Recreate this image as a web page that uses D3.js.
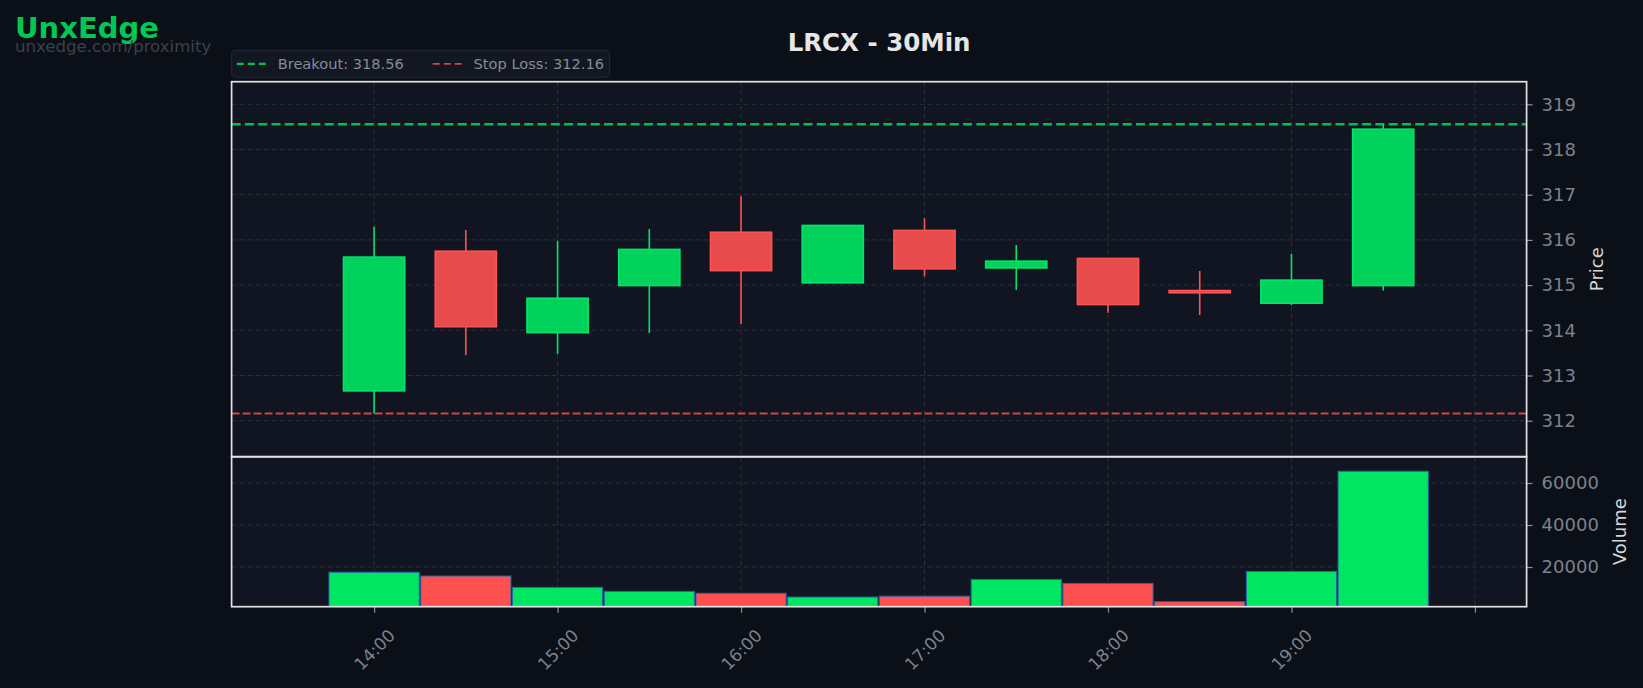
<!DOCTYPE html>
<html>
<head>
<meta charset="utf-8">
<script src="https://cdn.jsdelivr.net/npm/d3@7"></script>
<style>
  html, body { margin: 0; padding: 0; background: #0b0f17; }
  svg { display: block; }
  text { font-family: "DejaVu Sans", sans-serif; }
</style>
</head>
<body>
<svg id="chart" width="1643" height="688"></svg>
<script>
// ---------------- data ----------------
const times  = ["14:00","14:30","15:00","15:30","16:00","16:30","17:00","17:30","18:00","18:30","19:00","19:30"];
const opens  = [312.66, 315.75, 313.95, 314.99, 316.17, 315.05, 316.21, 315.38, 315.59, 314.88, 314.60, 314.99];
const highs  = [316.29, 316.22, 315.98, 316.24, 316.97, 316.33, 316.48, 315.89, 315.60, 315.31, 315.69, 318.56];
const lows   = [312.16, 313.45, 313.48, 313.94, 314.14, 315.05, 315.19, 314.89, 314.39, 314.34, 314.56, 314.88];
const closes = [315.62, 314.08, 314.71, 315.79, 315.32, 316.32, 315.36, 315.53, 314.57, 314.83, 315.11, 318.45];
const volumes = [17500, 15700, 10300, 8400, 7500, 5700, 6100, 14100, 12200, 3500, 17900, 65600];
const priceTicks = [312, 313, 314, 315, 316, 317, 318, 319];
const volumeTicks = [20000, 40000, 60000];
const hourTicks = ["14:00","15:00","16:00","17:00","18:00","19:00","20:00"];
const hourLabels = ["14:00","15:00","16:00","17:00","18:00","19:00",""];
const breakout = 318.56;
const stopLoss = 312.16;
const title = "LRCX - 30Min";
const legendLabels = ["Breakout: 318.56", "Stop Loss: 312.16"];

// ---------------- layout ----------------
const W = 1643, H = 688;
const L = 231.6, R = 1526.6;
const pTop = 81.7, pBot = 456.7;
const vTop = 456.7, vBot = 606.7;

const parseT = s => { const [h, m] = s.split(":").map(Number); return new Date(2024, 0, 1, h, m, 0); };
const tDates = times.map(parseT);

const x = d3.scaleTime()
  .domain([new Date(2024,0,1,13,13,24), new Date(2024,0,1,20,16,54)])
  .range([L, R]);
const yP = d3.scaleLinear().domain([311.204, 319.5]).range([pBot, pTop]);
const yV = d3.scaleLinear().domain([1095, 72524]).range([vBot, vTop]);

const GREEN_BODY = "#00d25b", GREEN_EDGE = "#00e66c";
const RED_BODY = "#e84b4b", RED_EDGE = "#ff5252";
const VOL_GREEN = "#00e663", VOL_RED = "#ff5050";
const GRID = "#2a2f3b";

const svg = d3.select("#chart");
svg.append("rect").attr("width", W).attr("height", H).attr("fill", "#0b0f17");

// clip paths
const defs = svg.append("defs");
defs.append("clipPath").attr("id", "clipP").append("rect")
  .attr("x", L).attr("y", pTop).attr("width", R - L).attr("height", pBot - pTop);
defs.append("clipPath").attr("id", "clipV").append("rect")
  .attr("x", L).attr("y", vTop).attr("width", R - L).attr("height", vBot - vTop);

// panel backgrounds
svg.append("rect").attr("x", L).attr("y", pTop).attr("width", R - L).attr("height", pBot - pTop).attr("fill", "#111521");
svg.append("rect").attr("x", L).attr("y", vTop).attr("width", R - L).attr("height", vBot - vTop).attr("fill", "#111521");

// ---------- grids ----------
const gP = svg.append("g").attr("clip-path", "url(#clipP)");
gP.selectAll("line.hg").data(priceTicks).join("line")
  .attr("x1", L).attr("x2", R).attr("y1", d => yP(d)).attr("y2", d => yP(d))
  .attr("stroke", GRID).attr("stroke-width", 1).attr("stroke-dasharray", "5,3");
gP.selectAll("line.vg").data(hourTicks).join("line")
  .attr("x1", d => x(parseT(d))).attr("x2", d => x(parseT(d))).attr("y1", pTop).attr("y2", pBot)
  .attr("stroke", GRID).attr("stroke-width", 1).attr("stroke-dasharray", "5,3");

const gV = svg.append("g").attr("clip-path", "url(#clipV)");
gV.selectAll("line.hg").data(volumeTicks).join("line")
  .attr("x1", L).attr("x2", R).attr("y1", d => yV(d)).attr("y2", d => yV(d))
  .attr("stroke", GRID).attr("stroke-width", 1).attr("stroke-dasharray", "5,3");
gV.selectAll("line.vg").data(hourTicks).join("line")
  .attr("x1", d => x(parseT(d))).attr("x2", d => x(parseT(d))).attr("y1", vTop).attr("y2", vBot)
  .attr("stroke", GRID).attr("stroke-width", 1).attr("stroke-dasharray", "5,3");

// ---------- level lines ----------
gP.append("line").attr("x1", L).attr("x2", R).attr("y1", yP(breakout)).attr("y2", yP(breakout))
  .attr("stroke", "#00c150").attr("stroke-width", 2.4).attr("stroke-dasharray", "9,4.3");
gP.append("line").attr("x1", L).attr("x2", R).attr("y1", yP(stopLoss)).attr("y2", yP(stopLoss))
  .attr("stroke", "#d04646").attr("stroke-width", 1.8).attr("stroke-dasharray", "8,3");

// ---------- candles ----------
const candles = times.map((t, i) => ({
  t: tDates[i], o: opens[i], h: highs[i], l: lows[i], c: closes[i], v: volumes[i], up: closes[i] >= opens[i]
}));
const halfBody = 10; // minutes
const cg = gP.selectAll("g.candle").data(candles).join("g");
cg.append("line")
  .attr("x1", d => x(d.t)).attr("x2", d => x(d.t))
  .attr("y1", d => yP(d.h)).attr("y2", d => yP(d.l))
  .attr("stroke", d => d.up ? GREEN_EDGE : RED_EDGE).attr("stroke-width", 1.6);
cg.append("rect")
  .attr("x", d => x(d3.timeSecond.offset(d.t, -halfBody * 60)))
  .attr("width", d => x(d3.timeSecond.offset(d.t, halfBody * 60)) - x(d3.timeSecond.offset(d.t, -halfBody * 60)))
  .attr("y", d => yP(Math.max(d.o, d.c)))
  .attr("height", d => Math.max(1, yP(Math.min(d.o, d.c)) - yP(Math.max(d.o, d.c))))
  .attr("fill", d => d.up ? GREEN_BODY : RED_BODY)
  .attr("stroke", d => d.up ? GREEN_EDGE : RED_EDGE).attr("stroke-width", 1.6);

// ---------- volume ----------
const halfVol = 14.75; // minutes
gV.selectAll("rect.vol").data(candles).join("rect")
  .attr("x", d => x(d3.timeSecond.offset(d.t, -halfVol * 60)))
  .attr("width", d => x(d3.timeSecond.offset(d.t, halfVol * 60)) - x(d3.timeSecond.offset(d.t, -halfVol * 60)))
  .attr("y", d => yV(d.v))
  .attr("height", d => yV(yV.domain()[0]) - yV(d.v) + 2)
  .attr("fill", d => d.up ? VOL_GREEN : VOL_RED)
  .attr("stroke", "#2566a8").attr("stroke-width", 1);

// ---------- axes ----------
const tickColor = "#8a909b";
const labelColor = "#7c828e";
const axP = d3.axisRight(yP).tickValues(priceTicks).tickSize(6).tickPadding(9).tickFormat(d3.format("d"));
const gAxP = svg.append("g").attr("transform", `translate(${R},0)`).call(axP);
const axV = d3.axisRight(yV).tickValues(volumeTicks).tickSize(6).tickPadding(9).tickFormat(d3.format("d"));
const gAxV = svg.append("g").attr("transform", `translate(${R},0)`).call(axV);
[gAxP, gAxV].forEach(g => {
  g.select(".domain").remove();
  g.selectAll(".tick line").attr("stroke", tickColor).attr("stroke-width", 1.2);
  g.selectAll(".tick text").attr("fill", labelColor).attr("font-size", 18).attr("font-family", "DejaVu Sans");
});

const axX = d3.axisBottom(x).tickValues(hourTicks.map(parseT)).tickSize(6)
  .tickFormat((d, i) => hourLabels[i]);
const gAxX = svg.append("g").attr("transform", `translate(0,${vBot})`).call(axX);
gAxX.select(".domain").remove();
gAxX.selectAll(".tick line").attr("stroke", tickColor).attr("stroke-width", 1.2);
gAxX.selectAll(".tick text")
  .attr("fill", labelColor).attr("font-size", 17).attr("font-family", "DejaVu Sans")
  .attr("text-anchor", "middle").attr("dy", null).attr("y", null)
  .attr("dominant-baseline", "central")
  .attr("transform", "translate(0,43) rotate(-45)");

// spines
const spine = "#e3e3e3";
svg.append("rect").attr("x", L).attr("y", pTop).attr("width", R - L).attr("height", pBot - pTop)
  .attr("fill", "none").attr("stroke", spine).attr("stroke-width", 1.7);
svg.append("rect").attr("x", L).attr("y", vTop).attr("width", R - L).attr("height", vBot - vTop)
  .attr("fill", "none").attr("stroke", spine).attr("stroke-width", 1.7);

// axis titles
svg.append("text").attr("transform", `translate(1596,${(pTop + pBot) / 2}) rotate(-90)`)
  .attr("text-anchor", "middle").attr("dominant-baseline", "central")
  .attr("fill", "#d6d6d6").attr("font-size", 18).text("Price");
svg.append("text").attr("transform", `translate(1619,${(vTop + vBot) / 2}) rotate(-90)`)
  .attr("text-anchor", "middle").attr("dominant-baseline", "central")
  .attr("fill", "#d6d6d6").attr("font-size", 18).text("Volume");

// title
svg.append("text").attr("x", (L + R) / 2).attr("y", 50.5).attr("text-anchor", "middle")
  .attr("fill", "#e6e6e6").attr("font-size", 24.5).attr("font-weight", "bold").text(title);

// branding
svg.append("text").attr("x", 15).attr("y", 37.5).attr("fill", "#00c853")
  .attr("font-size", 29).attr("font-weight", "bold").text("UnxEdge");
svg.append("text").attr("x", 15).attr("y", 52).attr("fill", "#3b414d")
  .attr("font-size", 16.6).text("unxedge.com/proximity");

// legend
const lg = svg.append("g");
lg.append("rect").attr("x", 231.6).attr("y", 50.3).attr("width", 378).attr("height", 27).attr("rx", 4)
  .attr("fill", "#121722").attr("stroke", "#1f2532").attr("stroke-width", 1.2);
lg.append("line").attr("x1", 236.8).attr("x2", 267).attr("y1", 63.8).attr("y2", 63.8)
  .attr("stroke", "#00c150").attr("stroke-width", 2.2).attr("stroke-dasharray", "7,4");
lg.append("text").attr("x", 277.7).attr("y", 69).attr("fill", "#858b97").attr("font-size", 14.6).text(legendLabels[0]);
lg.append("line").attr("x1", 432.7).attr("x2", 462).attr("y1", 63.8).attr("y2", 63.8)
  .attr("stroke", "#d04646").attr("stroke-width", 1.8).attr("stroke-dasharray", "7,4");
lg.append("text").attr("x", 473.6).attr("y", 69).attr("fill", "#858b97").attr("font-size", 14.6).text(legendLabels[1]);
</script>
</body>
</html>
